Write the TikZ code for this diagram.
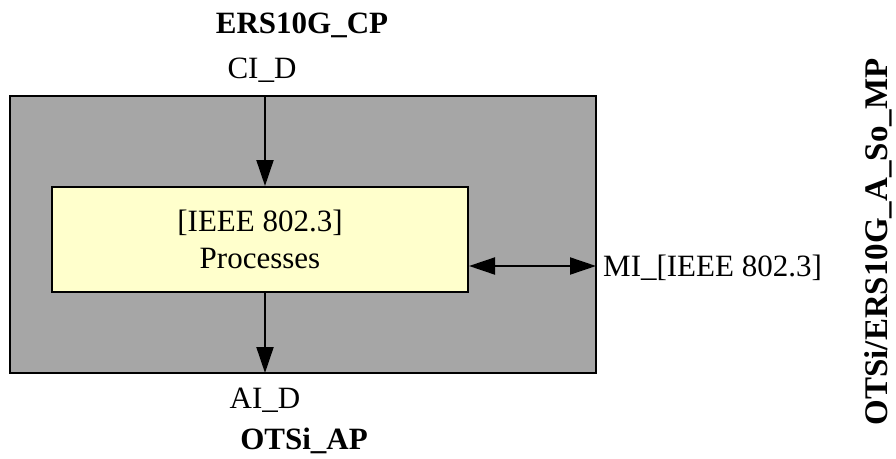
\documentclass[tikz,border=0pt]{standalone}
\usepackage{fontspec}
\setmainfont{Liberation Serif}
\usetikzlibrary{arrows.meta}
\definecolor{blockgray}{RGB}{166,166,166}
\definecolor{procyellow}{RGB}{255,255,204}
\begin{document}
\begin{tikzpicture}[x=1pt, y=-1pt,
    block/.style={rectangle, draw, line width=2pt, fill=blockgray, minimum width=586pt, minimum height=277pt, inner sep=0pt},
    proc/.style={rectangle, draw, line width=2pt, fill=procyellow, minimum width=416pt, minimum height=105pt, align=center, font=\fontsize{31}{37}\selectfont},
    lbl/.style={inner sep=0pt, font=\fontsize{31}{36}\selectfont},
    title/.style={inner sep=0pt, font=\fontsize{31}{36}\selectfont\bfseries},
    arrow/.style={-{Triangle[length=26pt,width=17pt]}, line width=2pt},
    dblarrow/.style={{Triangle[length=26pt,width=17pt]}-{Triangle[length=26pt,width=17pt]}, line width=2pt}]

    \useasboundingbox (0,0) rectangle (896,458);

    \node[block] (atomic) at (303,234.5) {};
    \node[proc] (proc) at (260,239.5) {[IEEE 802.3]\\Processes};

    \node[title] (cp) at (302,25) {ERS10G\_CP};
    \node[lbl] (cid) at (262,70) {CI\_D};
    \node[lbl] (aid) at (265,400) {AI\_D};
    \node[title] (ap) at (304,441) {OTSi\_AP};
    \node[lbl, anchor=west] (mi) at (603,268) {MI\_[IEEE 802.3]};
    \node[title, font=\fontsize{33}{36}\selectfont\bfseries, rotate=90] (name) at (878,242) {OTSi/ERS10G\_A\_So\_MP};

    \coordinate (cin) at (265,96);
    \coordinate (aout) at (265,373);
    \coordinate (mport) at (596,266);

    \draw[arrow] (cin) -- (cin |- proc.north);
    \draw[arrow] (aout |- proc.south) -- (aout);
    \draw[dblarrow] (mport -| proc.east) -- (mport);
\end{tikzpicture}
\end{document}
